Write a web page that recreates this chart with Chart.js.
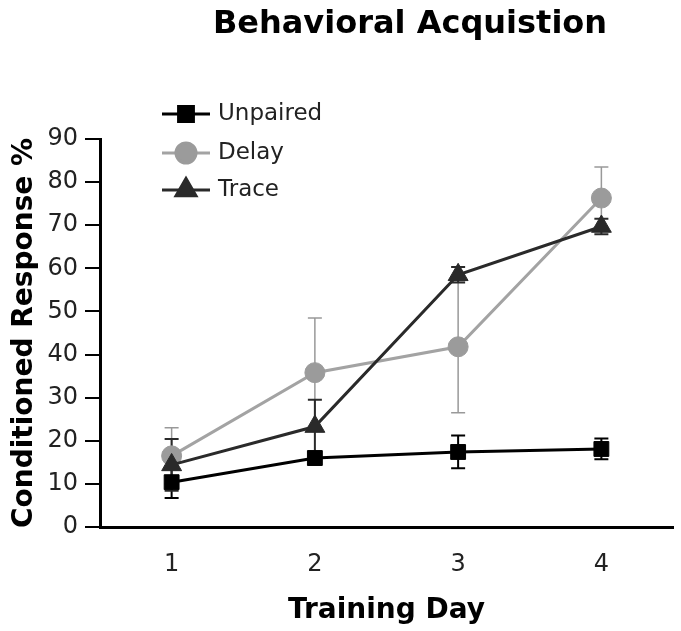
<!DOCTYPE html>
<html><head><meta charset="utf-8">
<script src="https://cdn.jsdelivr.net/npm/chart.js@4.4.0/dist/chart.umd.min.js"></script>
<style>html,body{margin:0;padding:0;background:#fff}#wrap{width:681px;height:631px;position:relative}</style>
</head><body><div id="wrap"><canvas id="c" width="681" height="631"></canvas></div>
<script>
const days = ['1', '2', '3', '4'];
const unpaired = [10.4, 16.0, 17.4, 18.1];
const unpairedErr = [3.7, 1.5, 3.8, 2.4];
const delay = [16.5, 35.8, 41.8, 76.3];
const delayErr = [6.5, 12.7, 15.3, 7.2];
const trace = [14.4, 23.3, 58.5, 69.7];
const traceErr = [6.0, 6.2, 1.8, 1.8];
const yMin = 0, yMax = 90, yStep = 10;
const chartTitle = 'Behavioral Acquistion';
const xTitle = 'Training Day';
const yTitle = 'Conditioned Response %';

const FONT = '"DejaVu Sans", Verdana, sans-serif';

const errorBars = {
  id: 'errorBars',
  beforeDatasetsDraw(chart) {
    const ctx = chart.ctx, ys = chart.scales.y;
    chart.data.datasets.forEach((ds, di) => {
      const meta = chart.getDatasetMeta(di);
      if (!ds.errors) return;
      ctx.save();
      ctx.strokeStyle = ds.errColor;
      ctx.lineWidth = ds.errWidth;
      meta.data.forEach((pt, i) => {
        const v = ds.data[i], e = ds.errors[i];
        const x = pt.x;
        const yt = ys.getPixelForValue(v + e), yb = ys.getPixelForValue(v - e);
        ctx.beginPath();
        ctx.moveTo(x, yt); ctx.lineTo(x, yb);
        ctx.moveTo(x - 7, yt); ctx.lineTo(x + 7, yt);
        ctx.moveTo(x - 7, yb); ctx.lineTo(x + 7, yb);
        ctx.stroke();
      });
      ctx.restore();
    });
  }
};

const decorations = {
  id: 'decorations',
  afterDraw(chart) {
    const ctx = chart.ctx;
    const ca = chart.chartArea;
    ctx.save();
    ctx.fillStyle = '#000';
    ctx.textAlign = 'center';
    ctx.textBaseline = 'alphabetic';
    ctx.font = 'bold 32px ' + FONT;
    ctx.fillText(chartTitle, 410, 33);
    ctx.font = 'bold 28px ' + FONT;
    ctx.fillText(xTitle, (ca.left + ca.right) / 2, 618);
    ctx.save();
    ctx.translate(32, (ca.top + ca.bottom) / 2);
    ctx.rotate(-Math.PI / 2);
    ctx.font = 'bold 28px ' + FONT;
    ctx.fillText(yTitle, 0, 0);
    ctx.restore();
    // legend
    const rows = [114, 153, 190];
    chart.data.datasets.forEach((ds, i) => {
      const y = rows[i];
      ctx.strokeStyle = ds.borderColor;
      ctx.lineWidth = ds.borderWidth;
      ctx.beginPath(); ctx.moveTo(162, y); ctx.lineTo(210, y); ctx.stroke();
      ctx.fillStyle = ds.pointBackgroundColor;
      ctx.strokeStyle = ds.pointBackgroundColor;
      Chart.helpers.drawPoint(ctx, {pointStyle: ds.pointStyle, radius: ds.pointRadius, rotation: 0, borderWidth: 1}, 186, y);
      ctx.fillStyle = '#222';
      ctx.font = '23px ' + FONT;
      ctx.textAlign = 'left';
      ctx.textBaseline = 'middle';
      ctx.fillText(ds.label, 218, y);
    });
    ctx.restore();
  }
};

new Chart(document.getElementById('c'), {
  type: 'line',
  data: {
    labels: days,
    datasets: [
      {label: 'Unpaired', data: unpaired, errors: unpairedErr, errColor: '#000', errWidth: 2,
       borderColor: '#000', borderWidth: 3, pointStyle: 'rect', pointRadius: 10.5,
       pointBackgroundColor: '#000', pointBorderColor: '#000', pointBorderWidth: 1, order: 1},
      {label: 'Delay', data: delay, errors: delayErr, errColor: '#999', errWidth: 1.5,
       borderColor: '#a3a3a3', borderWidth: 3, pointStyle: 'circle', pointRadius: 10,
       pointBackgroundColor: '#9b9b9b', pointBorderColor: '#9b9b9b', pointBorderWidth: 1, order: 3},
      {label: 'Trace', data: trace, errors: traceErr, errColor: '#2a2a2a', errWidth: 2,
       borderColor: '#2a2a2a', borderWidth: 3, pointStyle: 'triangle', pointRadius: 11.5,
       pointBackgroundColor: '#2a2a2a', pointBorderColor: '#2a2a2a', pointBorderWidth: 1, order: 2}
    ]
  },
  options: {
    responsive: false,
    animation: false,
    events: [],
    layout: {autoPadding: false, padding: {left: 0, top: 139, right: 8, bottom: 0}},
    plugins: {legend: {display: false}, title: {display: false}, tooltip: {enabled: false}},
    elements: {line: {tension: 0}},
    scales: {
      x: {
        type: 'category', offset: true,
        grid: {display: false, drawTicks: false},
        border: {display: true, color: '#000', width: 3},
        ticks: {color: '#222', font: {family: FONT, size: 24}, padding: 23},
        afterFit(s) { s.height = 104; s.paddingLeft = 0; s.paddingRight = 0; }
      },
      y: {
        min: yMin, max: yMax,
        grid: {drawOnChartArea: false, drawTicks: true, tickLength: 15, color: '#000', lineWidth: 2},
        border: {display: true, color: '#000', width: 3},
        ticks: {stepSize: yStep, color: '#222', font: {family: FONT, size: 24}, padding: 7},
        afterFit(s) { s.width = 100; }
      }
    }
  },
  plugins: [errorBars, decorations]
});
</script>
</body></html>
